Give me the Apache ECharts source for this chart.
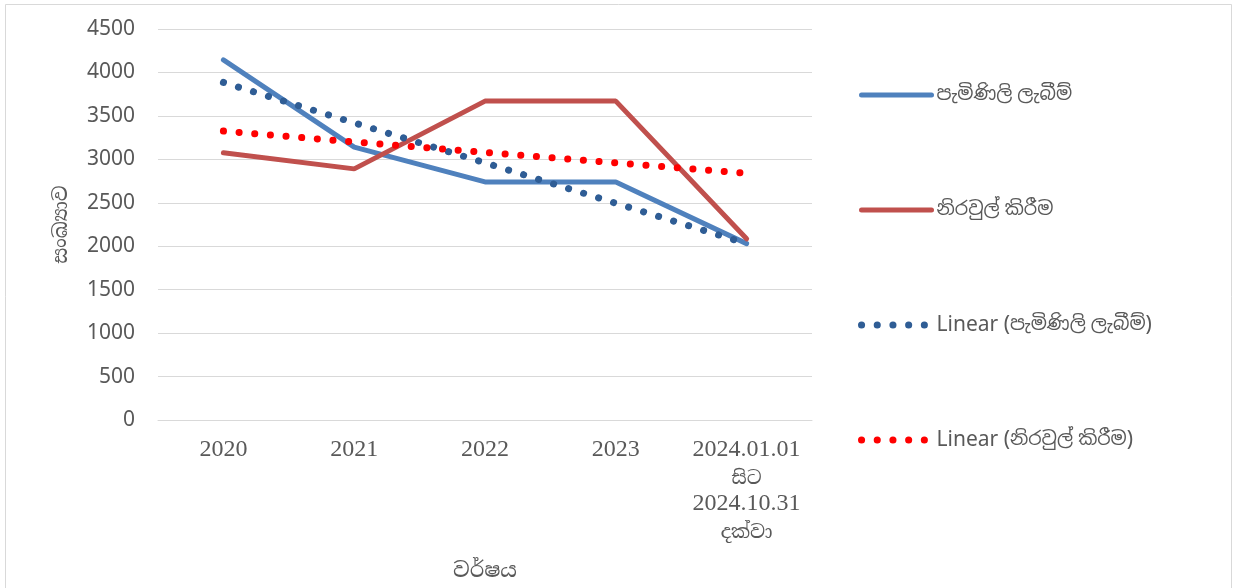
<!DOCTYPE html>
<html>
<head>
<meta charset="utf-8">
<script src="https://cdn.jsdelivr.net/npm/echarts@6/dist/echarts.min.js"></script>
<style>
html,body{margin:0;padding:0;background:#fff;}
#c{width:1235px;height:588px;}
</style>
</head>
<body>
<div id="c"></div>
<script>
const categories = ['2020', '2021', '2022', '2023', '2024.01.01\nසිට\n2024.10.31\nදක්වා'];
const received = [4145, 3140, 2740, 2740, 2030];
const resolved = [3075, 2890, 3670, 3670, 2085];
const receivedTrend = [3885, 3420, 2960, 2495, 2030];
const resolvedTrend = [3325, 3200, 3080, 2960, 2840];
const yTicks = {min: 0, max: 4500, interval: 500};
const nameReceived = 'පැමිණිලි ලැබීම්';
const nameResolved = 'නිරවුල් කිරීම';
const yName = 'සංඛ්‍යාව';
const xName = 'වර්ෂය';

const sans = '"Noto Sans", "Noto Sans Sinhala", sans-serif';
const serif = '"Liberation Serif", "Noto Serif Sinhala", "Noto Sans Sinhala", serif';

const chart = echarts.init(document.getElementById('c'));
const dotStyle = (color) => ({color: color, width: 7, type: [0.1, 15.6], cap: 'round'});
const legendItem = (name, width) => ({name: name, itemStyle: {opacity: 0}, lineStyle: {width: width}});
const isSinhala = (s) => /[\u0D80-\u0DFF]/.test(s);
// split a label into Latin / Sinhala runs for rich text
const richRuns = (s) => {
  const m = s.match(/[\u0D80-\u0DFF\u200D][\u0D80-\u0DFF\u200D ]*[\u0D80-\u0DFF\u200D]|[\u0D80-\u0DFF\u200D]|[^\u0D80-\u0DFF\u200D]+/g) || [];
  return m.map(p => isSinhala(p) ? '{si|' + p + '}' : '{la|' + p + '}').join('');
};

chart.setOption({
  animation: false,
  backgroundColor: '#fff',
  graphic: [{
    type: 'rect', shape: {x: 5.5, y: 4.5, width: 1226, height: 600},
    style: {fill: 'none', stroke: '#d9d9d9', lineWidth: 1}, silent: true
  }],
  grid: {left: 158, right: 1235 - 812, top: 29, bottom: 588 - 420, containLabel: false, outerBoundsMode: 'none'},
  legend: {
    orient: 'vertical', left: 858, top: 80, itemGap: 85, padding: 0,
    itemWidth: 70, itemHeight: 14,
    formatter: richRuns,
    textStyle: {
      fontFamily: sans, fontSize: 21, color: '#595959', lineHeight: 30,
      rich: {
        la: {fontFamily: sans, fontSize: 21, color: '#595959', lineHeight: 30},
        si: {fontFamily: sans, fontSize: 19, color: '#595959', lineHeight: 30}
      }
    },
    data: [
      legendItem(nameReceived, 5),
      legendItem(nameResolved, 5),
      legendItem('Linear (' + nameReceived + ')', 7),
      legendItem('Linear (' + nameResolved + ')', 7)
    ]
  },
  xAxis: {
    type: 'category', data: categories, boundaryGap: true,
    name: xName, nameLocation: 'middle', nameGap: 141,
    nameTextStyle: {fontFamily: serif, fontSize: 21, color: '#595959'},
    axisLine: {lineStyle: {color: '#d9d9d9', width: 1}},
    axisTick: {show: false},
    axisLabel: {
      interval: 0, margin: 16, color: '#595959',
      formatter: (v) => v.split('\n').map(l => isSinhala(l) ? '{si|' + l + '}' : '{d|' + l + '}').join('\n'),
      rich: {
        d: {fontFamily: serif, fontSize: 24, color: '#595959', lineHeight: 27},
        si: {fontFamily: serif, fontSize: 19, color: '#595959', lineHeight: 27, padding: [6, 0, 0, 0]}
      }
    }
  },
  yAxis: {
    type: 'value', min: yTicks.min, max: yTicks.max, interval: yTicks.interval,
    name: yName, nameLocation: 'middle', nameGap: 86, nameRotate: 90,
    nameTextStyle: {fontFamily: serif, fontSize: 20, color: '#595959'},
    axisLine: {show: false}, axisTick: {show: false},
    splitLine: {lineStyle: {color: '#d9d9d9', width: 1}},
    axisLabel: {fontFamily: sans, fontSize: 21, color: '#595959', margin: 23, formatter: (v) => String(v)}
  },
  series: [
    {name: nameReceived, type: 'line', data: received, symbol: 'none',
     lineStyle: {color: '#4f81bd', width: 5, cap: 'round'}, itemStyle: {color: '#4f81bd'}, z: 3},
    {name: nameResolved, type: 'line', data: resolved, symbol: 'none',
     lineStyle: {color: '#c0504d', width: 5, cap: 'round'}, itemStyle: {color: '#c0504d'}, z: 3},
    {name: 'Linear (' + nameReceived + ')', type: 'line', data: receivedTrend, symbol: 'none',
     lineStyle: dotStyle('#2f5d95'), itemStyle: {color: '#2f5d95'}, z: 4},
    {name: 'Linear (' + nameResolved + ')', type: 'line', data: resolvedTrend, symbol: 'none',
     lineStyle: dotStyle('#ff0000'), itemStyle: {color: '#ff0000'}, z: 4}
  ]
});
</script>
</body>
</html>
